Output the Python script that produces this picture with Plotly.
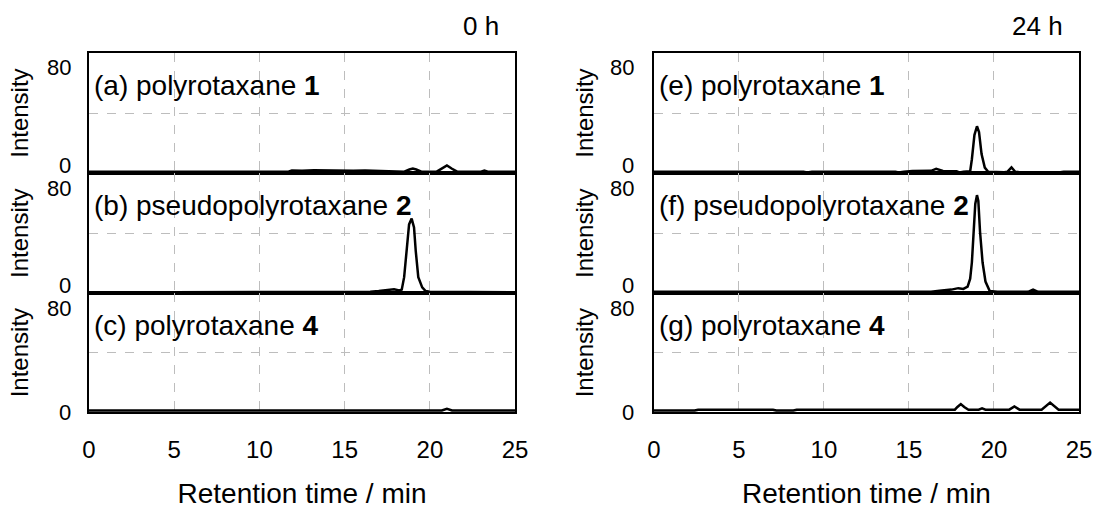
import plotly.graph_objects as go

# Chromatogram traces: retention time (min) and detector intensity
t_a = [0, 11.7, 11.9, 12.5, 13.2, 14.0, 14.8, 15.5, 16.2, 16.8, 17.4, 17.8, 18.5, 18.8, 19.0, 19.2, 19.5,
       20.4, 20.7, 21.0, 21.3, 21.6, 23.0, 23.2, 23.4, 25]
i_a = [0, 0, 0.8, 0.6, 0.9, 0.7, 0.9, 0.7, 0.8, 0.5, 0.6, 0, 0, 1.5, 2.2, 1.5, 0,
       0, 2.0, 4.2, 2.0, 0, 0, 0.8, 0, 0]

t_b = [0, 0.8, 1.0, 16.5, 17.0, 17.5, 17.9, 18.2, 18.35, 18.49, 18.68, 18.78, 18.93, 19.07, 19.17,
       19.32, 19.55, 19.75, 20.0, 22.6, 22.8, 25]
i_b = [-0.4, -0.4, 0, 0, 0.5, 1.2, 1.8, 1.0, 1.5, 10, 31, 46, 50, 44, 28,
       10, 3, 0.5, 0, 0, -0.4, -0.4]

t_c = [0, 20.7, 21.0, 21.3, 25]
i_c = [0, 0, 1.2, 0, 0]

t_e = [0, 1.3, 1.5, 3.5, 3.7, 8.8, 9.0, 9.3, 14.2, 14.4, 14.7, 15.2, 16.3, 16.6, 17.0, 17.8, 18.0, 18.2,
       18.6, 18.7, 18.85, 19.0, 19.12, 19.27, 19.46, 19.66, 20.6, 20.8, 21.03, 21.25, 21.5, 23.6, 23.8,
       24.1, 25]
i_e = [0, 0, -0.5, -0.5, 0, 0, -0.6, 0, 0, -0.6, 0, 0.4, 0.6, 2.0, 0.5, 0.3, -0.6, 0,
       0.3, 8.5, 25, 31, 27, 12, 2.8, 0, -0.3, 0, 3.0, 0, -0.3, -0.3, -0.6,
       0, 0]

t_f = [0, 16.3, 16.8, 17.5, 17.9, 18.2, 18.45, 18.6, 18.7, 18.8, 18.9, 19.0, 19.08, 19.18, 19.33, 19.5,
       19.75, 20.2, 22.0, 22.3, 22.6, 25]
i_f = [0, 0, 0.8, 1.5, 2.5, 2.0, 3.5, 9, 20, 41, 60, 66, 62, 41, 20, 7,
       0.5, 0, 0, 1.5, 0, 0]

t_g = [0, 2.4, 2.6, 7.0, 7.2, 8.2, 8.4, 17.7, 17.85, 18.05, 18.25, 18.5, 19.1, 19.3, 19.5, 20.9, 21.2,
       21.5, 22.8, 23.3, 23.8, 25]
i_g = [0, 0, 0.6, 0.6, 0, 0, 0.6, 0.6, 2.5, 4.5, 2.5, 0.6, 0.6, 1.5, 0.6, 0.6, 2.8,
       0.6, 0.6, 5.5, 0.6, 0.6]

panel_labels = ["(a) polyrotaxane <b>1</b>", "(b) pseudopolyrotaxane <b>2</b>", "(c) polyrotaxane <b>4</b>",
                "(e) polyrotaxane <b>1</b>", "(f) pseudopolyrotaxane <b>2</b>", "(g) polyrotaxane <b>4</b>"]
time_labels = ["0 h", "24 h"]
x_ticks = [0, 5, 10, 15, 20, 25]
y_tick_values = [0, 80]
y_tick_text = ["0", "80"]
x_title = "Retention time / min"
y_title = "Intensity"

series_t = [t_a, t_b, t_c, t_e, t_f, t_g]
series_i = [i_a, i_b, i_c, i_e, i_f, i_g]

FONT = "Liberation Sans, Arial, sans-serif"
W, H = 1104, 516
ML, MR, MT, MB = 89, 13, 53, 88

col_domains = [[0, 0.4304], [0.5706, 1.0]]
row_domains = [[0.6653, 1.0], [0.3307, 0.6653], [0.0, 0.3307]]

fig = go.Figure()
annotations = []

for k in range(6):
    n = k + 1
    col, row = divmod(k, 3)
    xname = "x" if n == 1 else f"x{n}"
    yname = "y" if n == 1 else f"y{n}"
    bottom = row == 2

    fig.add_trace(go.Scatter(
        x=series_t[k], y=series_i[k], mode="lines",
        line=dict(color="black", width=2.5),
        xaxis=xname, yaxis=yname, showlegend=False, hoverinfo="skip",
    ))

    xa = dict(
        domain=col_domains[col], anchor=yname, range=[0, 25],
        tickmode="array", tickvals=x_ticks, ticktext=[str(v) for v in x_ticks],
        showticklabels=bottom, ticks="", ticklabelstandoff=15,
        tickfont=dict(family=FONT, size=24, color="black"),
        showgrid=True, gridcolor="#bdbdbd", griddash="dash", gridwidth=1,
        showline=True, linecolor="black", linewidth=1.5, mirror=True,
        zeroline=False, fixedrange=True,
    )
    if bottom:
        xa["title"] = dict(text=x_title, font=dict(family=FONT, size=28, color="black"), standoff=22)
    ya = dict(
        domain=row_domains[row], anchor=xname, range=[-1, 81],
        tickmode="array", tickvals=[40], showticklabels=False, ticks="",
        showgrid=True, gridcolor="#bdbdbd", griddash="dash", gridwidth=1,
        showline=True, linecolor="black", linewidth=1.5, mirror=True,
        zeroline=False, fixedrange=True,
        title=dict(text=y_title, font=dict(family=FONT, size=24, color="black"), standoff=52),
    )
    fig.update_layout(**{("xaxis" if n == 1 else f"xaxis{n}"): xa,
                         ("yaxis" if n == 1 else f"yaxis{n}"): ya})

    # panel caption
    annotations.append(dict(
        text=panel_labels[k], xref=f"{xname} domain", x=0, xshift=3, xanchor="left",
        yref=yname, y=80, yshift=-31, yanchor="middle", showarrow=False,
        font=dict(family=FONT, size=28, color="black"),
    ))
    # intensity scale labels
    for val, txt in zip(y_tick_values, y_tick_text):
        if val == 80:
            shift = -13.5
        else:
            shift = -1.5 if bottom else 6
        annotations.append(dict(
            text=txt, xref=f"{xname} domain", x=0, xshift=-16 if col == 0 else -18, xanchor="right",
            yref=yname, y=val, yshift=shift, yanchor="middle", showarrow=False,
            font=dict(family=FONT, size=22, color="black"),
        ))
    if row == 0:
        annotations.append(dict(
            text=time_labels[col], xref=xname, x=25, xshift=-14, xanchor="right",
            yref=f"{yname} domain", y=1, yshift=27, yanchor="middle", showarrow=False,
            font=dict(family=FONT, size=26, color="black"),
        ))

fig.update_layout(
    width=W, height=H,
    margin=dict(l=ML, r=MR, t=MT, b=MB),
    paper_bgcolor="white", plot_bgcolor="white",
    annotations=annotations,
    font=dict(family=FONT, color="black"),
)

fig.write_html("out.html", config={"displayModeBar": False})
